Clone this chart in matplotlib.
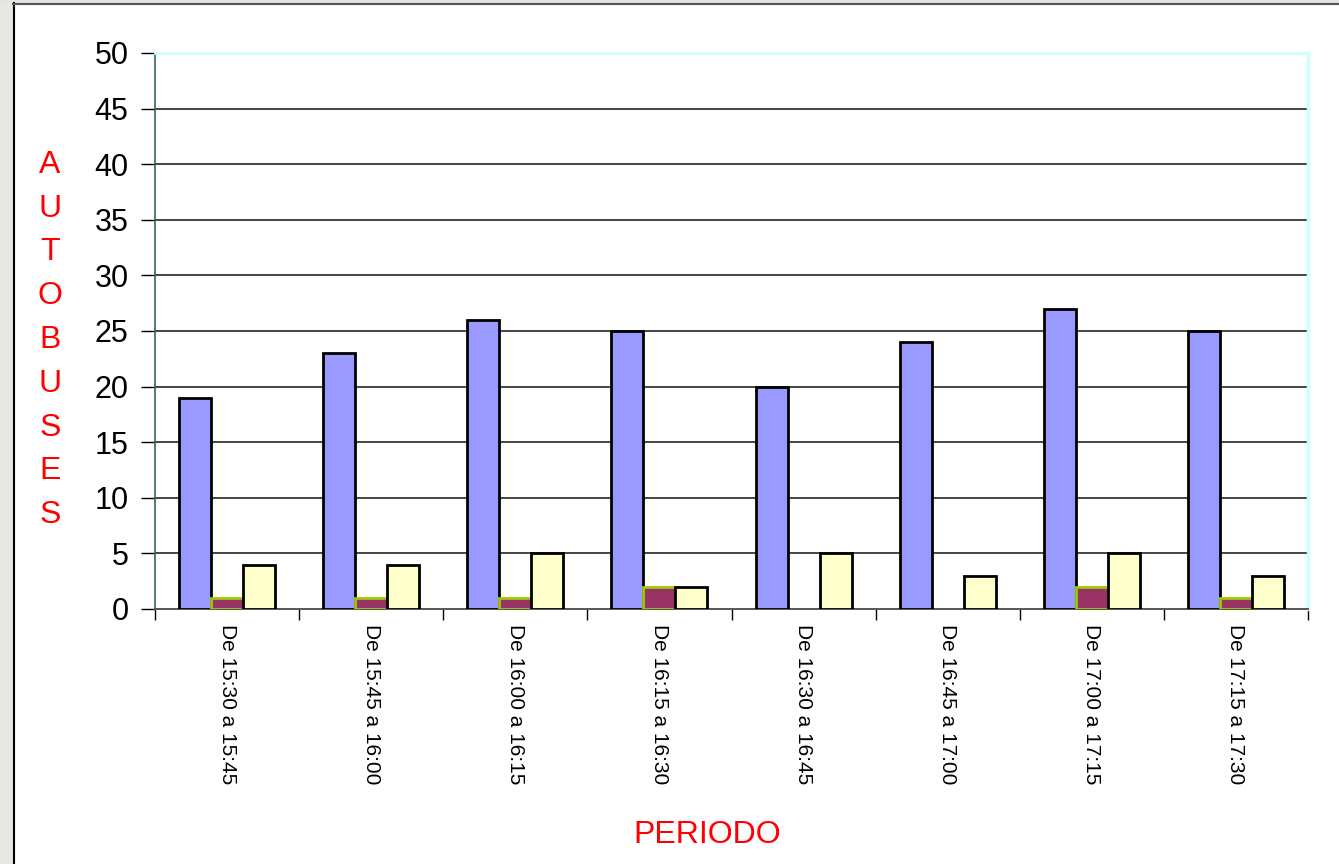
import matplotlib
matplotlib.use("Agg")
import matplotlib.pyplot as plt
import numpy as np
from matplotlib.patches import Rectangle
from matplotlib.lines import Line2D

categories = ["De 15:30 a 15:45", "De 15:45 a 16:00", "De 16:00 a 16:15",
              "De 16:15 a 16:30", "De 16:30 a 16:45", "De 16:45 a 17:00",
              "De 17:00 a 17:15", "De 17:15 a 17:30"]
serie_a = [19, 23, 26, 25, 20, 24, 27, 25]
serie_b = [1, 1, 1, 2, 0, 0, 2, 1]
serie_c = [4, 4, 5, 2, 5, 3, 5, 3]
yticks = [0, 5, 10, 15, 20, 25, 30, 35, 40, 45, 50]

plt.rcParams['font.family'] = ['Liberation Sans', 'DejaVu Sans']

W, H = 1339, 864
fig = plt.figure(figsize=(W / 100, H / 100), dpi=100)
fig.patch.set_facecolor("white")

# background strips (outside frame)
fig.add_artist(Rectangle((0, 0), 13 / W, 1, transform=fig.transFigure,
                         facecolor="#e9e7e2", edgecolor="none", zorder=0))
fig.add_artist(Rectangle((0, 1 - 3 / H), 1, 3 / H, transform=fig.transFigure,
                         facecolor="#e3e3e3", edgecolor="none", zorder=0))
fig.add_artist(Line2D([13.5 / W, 13.5 / W], [0, 1 - 3 / H], transform=fig.transFigure,
                      color="black", lw=1.5))
fig.add_artist(Line2D([13 / W, 1], [1 - 3.5 / H, 1 - 3.5 / H], transform=fig.transFigure,
                      color="#555555", lw=1.5))

left, right, top, bottom = 155, 1308, 53, 609
ax = fig.add_axes([left / W, 1 - bottom / H, (right - left) / W, (bottom - top) / H])

x = np.arange(len(categories))
bw = 0.222
ax.bar(x - bw, serie_a, bw, color="#9999ff", edgecolor="black", linewidth=2, zorder=3)
ax.bar(x, serie_b, bw, color="#993366", edgecolor="#99cc00",
       linewidth=[2 if v > 0 else 0 for v in serie_b], zorder=3)
ax.bar(x + bw, serie_c, bw, color="#ffffcc", edgecolor="black", linewidth=2, zorder=3)

ax.set_xlim(-0.5, len(categories) - 0.5)
ax.set_ylim(0, 50)
ax.set_yticks(yticks)
ax.set_yticklabels([str(v) for v in yticks], fontsize=22)
ax.tick_params(axis="y", length=10, width=1, color="black", pad=9, direction="out")

ax.set_xticks(np.arange(len(categories) + 1) - 0.5)
ax.set_xticklabels([])
ax.tick_params(axis="x", which="major", length=8, width=1, color="black", direction="out")
ax.set_xticks(x, minor=True)
ax.set_xticklabels(categories, minor=True, rotation=270, fontsize=15, va="top", ha="center")
ax.tick_params(axis="x", which="minor", length=0, pad=11)

for v in yticks[1:-1]:
    ax.axhline(v, color="#444444", lw=1.4, zorder=1)

ax.spines["top"].set_color("#ccffff")
ax.spines["top"].set_linewidth(2)
ax.spines["right"].set_color("#ccffff")
ax.spines["right"].set_linewidth(2.5)
ax.spines["left"].set_color("#336666")
ax.spines["left"].set_linewidth(1.2)
ax.spines["bottom"].set_color("#555555")
ax.spines["bottom"].set_linewidth(1.4)

fig.text(50 / W, 1 - 340 / H, "\n".join("AUTOBUSES"), color="red", fontsize=23,
         ha="center", va="center", linespacing=1.6)
fig.text(707 / W, 1 - 835 / H, "PERIODO", color="red", fontsize=23,
         ha="center", va="center")

fig.savefig("out.png", dpi=100)
